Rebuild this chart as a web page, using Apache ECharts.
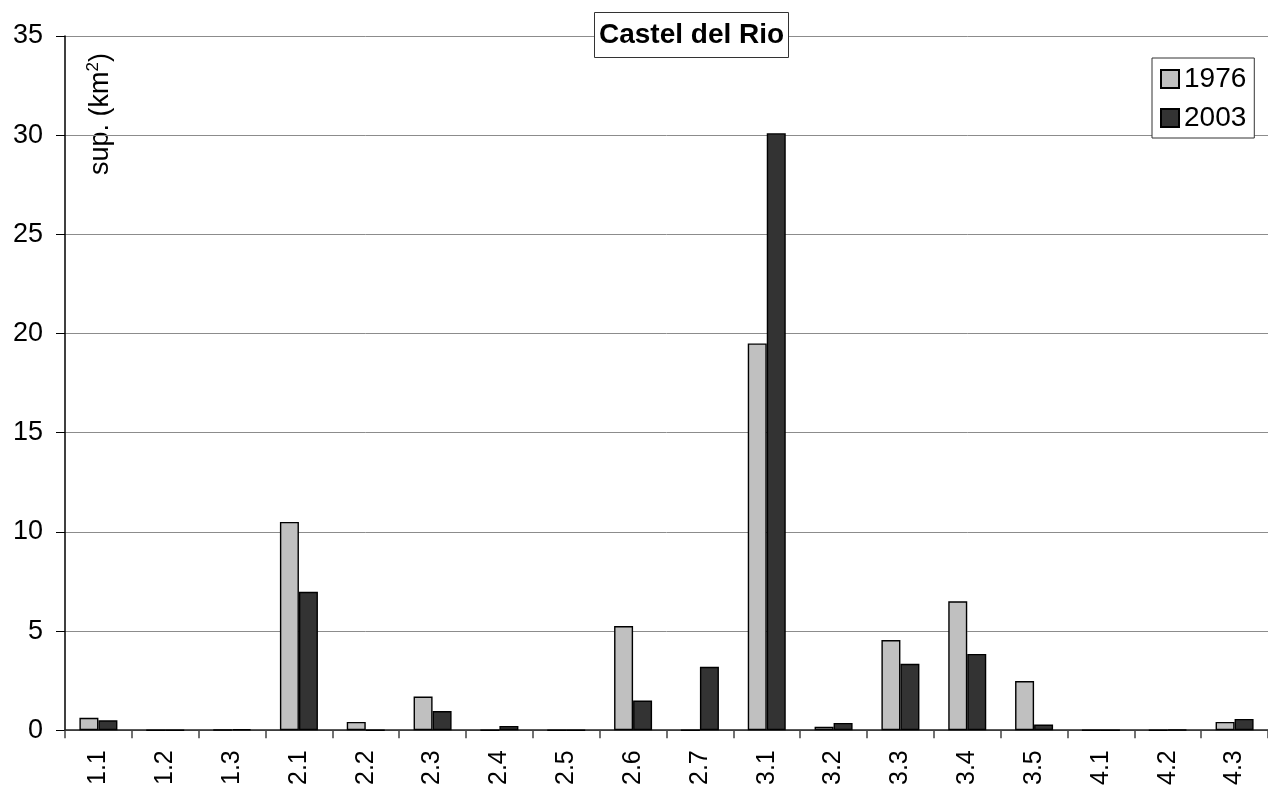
<!DOCTYPE html>
<html>
<head>
<meta charset="utf-8">
<title>Castel del Rio</title>
<script src="https://cdn.jsdelivr.net/npm/echarts@6/dist/echarts.min.js"></script>
<style>
  html, body { margin: 0; padding: 0; background: #fff; }
  #chart { width: 1268px; height: 788px; }
</style>
</head>
<body>
<div id="chart"></div>
<script>
// Land-cover classes and surface (km²) per class for the two survey years
const categories = ['1.1', '1.2', '1.3', '2.1', '2.2', '2.3', '2.4', '2.5', '2.6', '2.7',
                    '3.1', '3.2', '3.3', '3.4', '3.5', '4.1', '4.2', '4.3'];
const values1976 = [0.63, 0, 0.02, 10.5, 0.42, 1.7, 0, 0, 5.25, 0,
                    19.5, 0.17, 4.55, 6.5, 2.48, 0, 0, 0.42];
const values2003 = [0.5, 0, 0.05, 6.98, 0, 0.97, 0.22, 0, 1.5, 3.2,
                    30.1, 0.37, 3.35, 3.85, 0.29, 0, 0.03, 0.57];
const yTicks = [0, 5, 10, 15, 20, 25, 30, 35];

const FONT = '"Liberation Sans", Arial, sans-serif';
const chart = echarts.init(document.getElementById('chart'), null, { renderer: 'canvas' });

chart.setOption({
  animation: false,
  backgroundColor: '#ffffff',
  title: {
    text: 'Castel del Rio',
    left: 594,
    top: 12,
    padding: [6, 5, 6, 5],
    borderWidth: 1,
    borderColor: '#333',
    backgroundColor: '#ffffff',
    textStyle: { fontFamily: FONT, fontSize: 28, fontWeight: 'bold', color: '#000', lineHeight: 34 },
    z: 10
  },
  legend: {
    left: 1152,
    top: 58,
    orient: 'vertical',
    padding: [7, 8, 6, 8],
    borderWidth: 1,
    borderColor: '#333',
    backgroundColor: '#ffffff',
    itemWidth: 18,
    itemHeight: 18,
    itemGap: 11,
    icon: 'rect',
    textStyle: { fontFamily: FONT, fontSize: 28, color: '#000', lineHeight: 26, padding: [0, 0, 0, 0] },
    data: ['1976', '2003']
  },
  grid: { left: 65, right: 0, top: 36, bottom: 56, containLabel: false },
  xAxis: {
    type: 'category',
    data: categories,
    axisLine: { show: true, lineStyle: { color: '#222', width: 1.5 } },
    axisTick: { show: true, length: 8, lineStyle: { color: '#444', width: 1.5 } },
    axisLabel: { rotate: 90, margin: 20, fontFamily: FONT, fontSize: 25, color: '#000' },
    splitLine: { show: false }
  },
  yAxis: {
    type: 'value',
    min: yTicks[0],
    max: yTicks[yTicks.length - 1],
    interval: 5,
    axisLine: { show: true, lineStyle: { color: '#000', width: 1.5 } },
    axisTick: { show: true, length: 9, lineStyle: { color: '#000', width: 1 } },
    axisLabel: { margin: 22, fontFamily: FONT, fontSize: 27, color: '#000' },
    splitLine: { show: true, lineStyle: { color: '#8c8c8c', width: 1 } }
  },
  graphic: [{
    type: 'text',
    x: 101,
    y: 114,
    rotation: Math.PI / 2,
    style: {
      text: '{a|sup. (km}{s|2}{a|)}',
      fontFamily: FONT,
      align: 'center',
      verticalAlign: 'middle',
      fill: '#000',
      rich: {
        a: { fontFamily: FONT, fontSize: 27, lineHeight: 32, fill: '#000' },
        s: { fontFamily: FONT, fontSize: 17, lineHeight: 32, verticalAlign: 'top', fill: '#000', padding: [0, 0, 10, 0] }
      }
    }
  }],
  series: [
    {
      name: '1976',
      type: 'bar',
      data: values1976,
      barWidth: 19,
      barGap: '0%',
      itemStyle: { color: '#c0c0c0', borderColor: '#000', borderWidth: 1.4 }
    },
    {
      name: '2003',
      type: 'bar',
      data: values2003,
      barWidth: 19,
      barGap: '0%',
      itemStyle: { color: '#333333', borderColor: '#000', borderWidth: 1.4 }
    }
  ]
});
</script>
</body>
</html>
